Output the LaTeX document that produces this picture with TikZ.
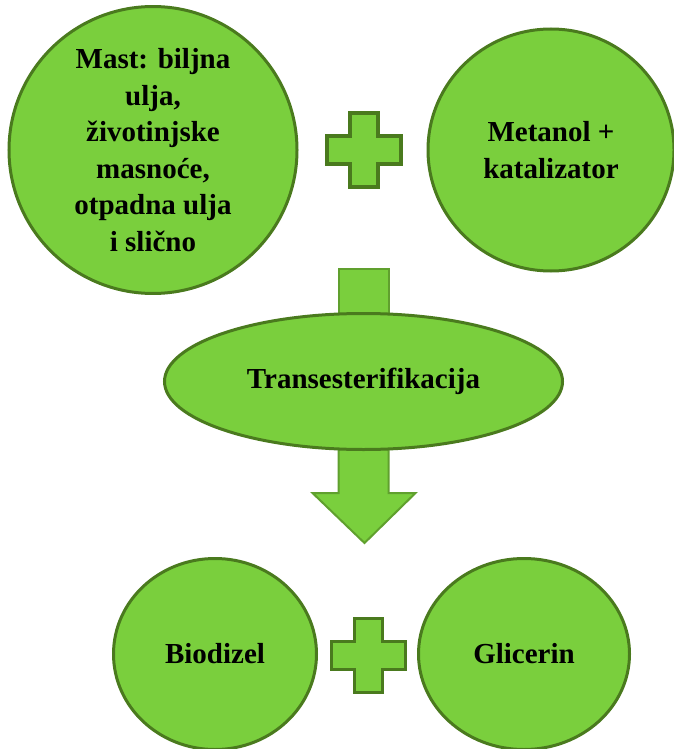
\documentclass[tikz,border=0pt]{standalone}
\usepackage{fontspec}
\setmainfont{Liberation Serif}
\usetikzlibrary{shapes.geometric,calc}
\definecolor{gfill}{RGB}{122,207,61}
\definecolor{gline}{RGB}{74,122,30}
\definecolor{aline}{RGB}{96,160,46}
\begin{document}
\begin{tikzpicture}[x=1pt,y=-1pt,
  blob/.style={ellipse, draw=gline, line width=3pt, fill=gfill, inner sep=0pt,
    align=center, font=\fontsize{29}{36.5}\selectfont\bfseries},
  plusshape/.style={draw=gline, line width=3.5pt, fill=gfill, line join=miter},
  arrowshape/.style={draw=aline, line width=2pt, fill=gfill, line join=miter},
  plussign/.pic={
    \path[plusshape] (-14,-37) -- (14,-37) -- (14,-14) -- (37,-14) -- (37,14)
      -- (14,14) -- (14,37) -- (-14,37) -- (-14,14) -- (-37,14) -- (-37,-14)
      -- (-14,-14) -- cycle;
  }]
\useasboundingbox (0,0) rectangle (673,749);
\fill[white] (0,0) rectangle (673,749);

% arrows (behind the ellipse)
\coordinate (tc) at (363.5,381.5);
\path[arrowshape] ($(tc)+(-25,-112.5)$) rectangle ($(tc)+(25,-40)$);
\path[arrowshape] ($(tc)+(-25,40)$) -- ($(tc)+(-25,111.5)$) -- ($(tc)+(-51,111.5)$)
  -- ($(tc)+(1,161.5)$) -- ($(tc)+(52,111.5)$) -- ($(tc)+(25,111.5)$)
  -- ($(tc)+(25,40)$) -- cycle;

\node[blob, minimum width=288pt, minimum height=268pt] (mast) at (153,150)
  {Mast: biljna\\ulja,\\životinjske\\masnoće,\\otpadna ulja\\i slično};
\node[blob, minimum width=246pt, minimum height=242pt] (metanol) at (551,150)
  {Metanol +\\katalizator};
\node[blob, minimum width=398pt, minimum height=136pt] (trans) at (tc)
  {Transesterifikacija};
\node[blob, minimum width=203pt, minimum height=191pt] (bio) at (215,654)
  {Biodizel};
\node[blob, minimum width=211pt, minimum height=191pt] (gli) at (524,654)
  {Glicerin};

\pic at (364,150) {plussign};
\pic at (368.5,655.5) {plussign};
\end{tikzpicture}
\end{document}
